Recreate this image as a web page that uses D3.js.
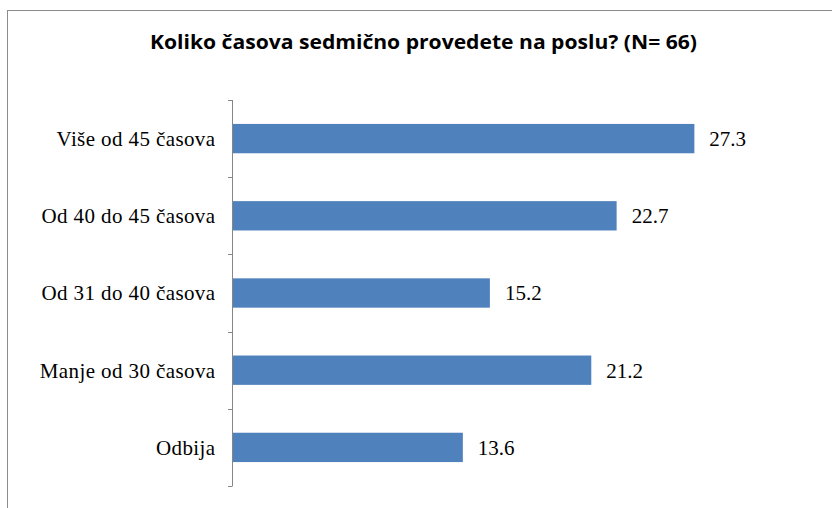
<!DOCTYPE html>
<html><head><meta charset="utf-8">
<script src="https://cdn.jsdelivr.net/npm/d3@7"></script>
<style>body{margin:0;background:#fff}</style>
</head><body>
<script>
const categories = ["Više od 45 časova","Od 40 do 45 časova","Od 31 do 40 časova","Manje od 30 časova","Odbija"];
const values = [27.3, 22.7, 15.2, 21.2, 13.6];
const title = "Koliko časova sedmično provedete na poslu? (N= 66)";

const W = 832, H = 508;
const svg = d3.select("body").append("svg").attr("width", W).attr("height", H);

svg.append("rect").attr("x", 7.5).attr("y", 10.5).attr("width", 1000).attr("height", 1000)
  .attr("fill", "#fff").attr("stroke", "#8c8c8c").attr("stroke-width", 1);

svg.append("text").attr("x", 423.5).attr("y", 49).attr("text-anchor", "middle")
  .attr("font-family", "'Open Sans', sans-serif")
  .attr("font-weight", "bold").attr("font-size", 20).attr("fill", "#000")
  .attr("textLength", 547).attr("lengthAdjust", "spacingAndGlyphs")
  .text(title);

const x = d3.scaleLinear().domain([0, 30]).range([233, 740]);
const y = d3.scaleBand().domain(categories).range([100, 486]).paddingInner(0.62).paddingOuter(0.31);

svg.selectAll("rect.bar").data(values).join("rect").attr("class", "bar")
  .attr("x", x(0)).attr("y", (d, i) => y(categories[i]))
  .attr("width", d => x(d) - x(0)).attr("height", y.bandwidth())
  .attr("fill", "#4F81BD");

// axis line and ticks at category boundaries
const step = y.step();
const r0 = y.range()[0];
const g = svg.append("g").attr("stroke", "#868686").attr("stroke-width", 1).attr("fill", "none");
g.append("line").attr("x1", x(0) - 0.5).attr("x2", x(0) - 0.5).attr("y1", r0).attr("y2", r0 + step * categories.length);
d3.range(categories.length + 1).forEach(i => {
  g.append("line").attr("x1", x(0) - 5).attr("x2", x(0) - 0.5)
    .attr("y1", Math.round(r0 + i * step) + 0.5).attr("y2", Math.round(r0 + i * step) + 0.5);
});

svg.selectAll("text.cat").data(categories).join("text").attr("class", "cat")
  .attr("x", 215.5).attr("y", d => y(d) + y.bandwidth() / 2).attr("dy", "0.35em")
  .attr("text-anchor", "end").attr("font-family", "'Liberation Serif', serif")
  .attr("font-size", 21).attr("letter-spacing", 0.4).attr("fill", "#000").text(d => d);

svg.selectAll("text.val").data(values).join("text").attr("class", "val")
  .attr("x", d => x(d) + 15).attr("y", (d, i) => y(categories[i]) + y.bandwidth() / 2).attr("dy", "0.35em")
  .attr("font-family", "'Liberation Serif', serif")
  .attr("font-size", 21).attr("fill", "#000").text(d => d.toFixed(1));
</script>
</body></html>
